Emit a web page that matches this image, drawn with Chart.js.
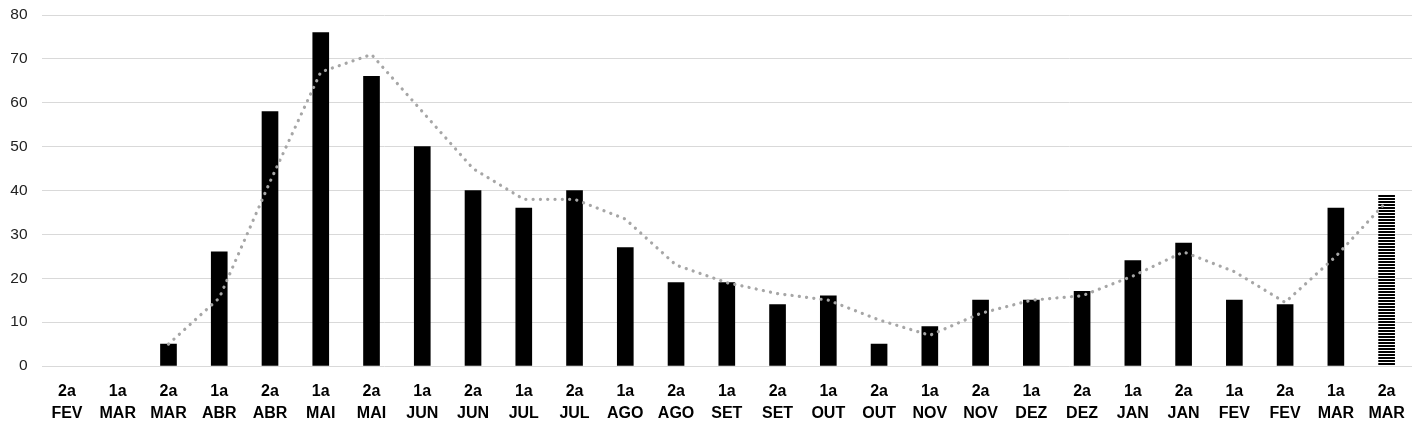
<!DOCTYPE html>
<html>
<head>
<meta charset="utf-8">
<script src="https://cdn.jsdelivr.net/npm/chart.js@4"></script>
<style>
html,body{margin:0;padding:0;background:#fff;}
#wrap{width:1426px;height:433px;position:relative;}
</style>
</head>
<body>
<div id="wrap"><canvas id="c"></canvas></div>
<script>
const periods = ['2a','1a','2a','1a','2a','1a','2a','1a','2a','1a','2a','1a','2a','1a','2a','1a','2a','1a','2a','1a','2a','1a','2a','1a','2a','1a','2a'];
const months = ['FEV','MAR','MAR','ABR','ABR','MAI','MAI','JUN','JUN','JUL','JUL','AGO','AGO','SET','SET','OUT','OUT','NOV','NOV','DEZ','DEZ','JAN','JAN','FEV','FEV','MAR','MAR'];
const barValues = [null, null, 5, 26, 58, 76, 66, 50, 40, 36, 40, 27, 19, 19, 14, 16, 5, 9, 15, 15, 17, 24, 28, 15, 14, 36, 39];
const trendValues = [null, null, 5, 15.5, 42, 67, 71, 58, 45, 38, 38, 33.5, 23, 19, 16.5, 15, 10.5, 7, 12, 15, 16, 20.5, 26, 21.5, 14.5, 25, 37.5];
const yTicks = [0, 10, 20, 30, 40, 50, 60, 70, 80];

const labels = periods.map((p, i) => [p, months[i]]);

// striped pattern for the last (partial) bar
const pc = document.createElement('canvas');
pc.width = 4; pc.height = 3;
const pctx = pc.getContext('2d');
pctx.fillStyle = '#fff'; pctx.fillRect(0, 0, 4, 3);
pctx.fillStyle = '#000'; pctx.fillRect(0, 0, 4, 2);
const stripe = pctx.createPattern(pc, 'repeat');

const barColors = barValues.map((v, i) => i === barValues.length - 1 ? stripe : '#000');

new Chart(document.getElementById('c'), {
  data: {
    labels: labels,
    datasets: [
      {
        type: 'line',
        data: trendValues,
        borderColor: '#a6a6a6',
        borderWidth: 3.2,
        borderDash: [0.1, 7.2],
        borderCapStyle: 'round',
        pointRadius: 0,
        fill: false,
        tension: 0,
        spanGaps: false,
        order: 0
      },
      {
        type: 'bar',
        data: barValues,
        backgroundColor: barColors,
        borderWidth: 0,
        barThickness: 16,
        order: 1
      }
    ]
  },
  options: {
    responsive: true,
    maintainAspectRatio: false,
    animation: false,
    layout: { padding: { left: 0, right: 14, top: 15, bottom: 0 } },
    plugins: { legend: { display: false }, tooltip: { enabled: false } },
    scales: {
      x: {
        grid: { display: false, drawTicks: false },
        border: { display: false },
        ticks: {
          color: '#000',
          padding: 14,
          maxRotation: 0,
          autoSkip: false,
          font: { family: 'Liberation Sans', size: 16, weight: 'bold', lineHeight: 1.4 }
        },
        afterFit: s => { s.height = 67; s.paddingLeft = 0; s.paddingRight = 0; }
      },
      y: {
        min: 0, max: 80,
        afterBuildTicks: s => { s.ticks = yTicks.map(v => ({ value: v })); },
        grid: { color: '#d9d9d9', lineWidth: 1, drawTicks: false },
        border: { display: false },
        ticks: {
          color: '#222',
          padding: 14,
          font: { family: 'Liberation Sans', size: 15.5 }
        },
        afterFit: s => { s.width = 41.6; s.paddingTop = 0; s.paddingBottom = 0; }
      }
    }
  }
});
</script>
</body>
</html>
